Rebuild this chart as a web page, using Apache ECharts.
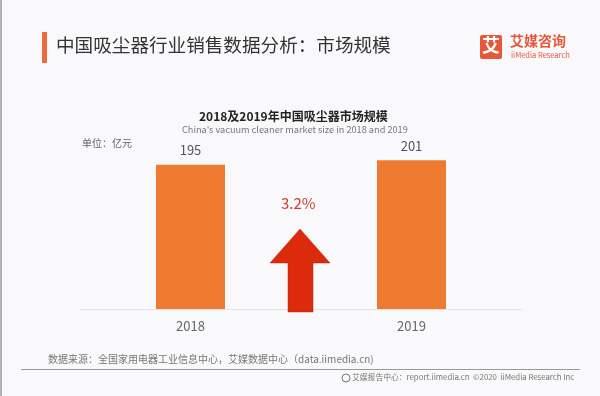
<!DOCTYPE html>
<html><head><meta charset="utf-8">
<script src="https://cdn.jsdelivr.net/npm/echarts@6/dist/echarts.min.js"></script>
<style>html,body{margin:0;padding:0;background:#f9f9fb;}#c{width:600px;height:396px;}</style>
</head><body><div id="c"></div>
<script>
var categories = ['2018', '2019'];
var marketSize = [195, 201];
var growthLabel = '3.2%';
var FONT = '"Noto Sans CJK SC","Noto Sans",sans-serif';

var chart = echarts.init(document.getElementById('c'));
chart.setOption({
  backgroundColor: '#f9f9fb',
  animation: false,
  grid: { left: 80, right: 78, top: 124, bottom: 87 },
  xAxis: {
    type: 'category', data: categories,
    axisLine: { lineStyle: { color: '#e4e4e6', width: 1 } },
    axisTick: { show: false },
    axisLabel: { color: '#666', fontSize: 13, margin: 11, fontFamily: FONT }
  },
  yAxis: { type: 'value', min: 0, max: 250, show: false, splitLine: { show: false } },
  series: [{
    type: 'bar', data: marketSize, barWidth: 69,
    itemStyle: { color: '#ef7b30' },
    label: { show: true, position: 'top', distance: 8, color: '#555', fontSize: 13, fontFamily: FONT }
  }],
  graphic: [
    { type: 'rect', left: 0, top: 0, shape: { width: 2, height: 396 }, style: { fill: '#b0b0b0' } },
    { type: 'rect', left: 42, top: 32, shape: { width: 5, height: 31 }, style: { fill: '#ee6a3a' } },
    { type: 'text', left: 56, top: 36, style: { text: '中国吸尘器行业销售数据分析：市场规模', font: '18.6px ' + FONT, fill: '#333' } },
    { type: 'rect', left: 480, top: 35, shape: { width: 22, height: 24, r: 2 }, style: { fill: '#e9573b' } },
    { type: 'text', left: 482, top: 36, style: { text: '艾', font: 'bold 18px ' + FONT, fill: '#fff' } },
    { type: 'text', left: 510, top: 34, style: { text: '艾媒咨询', font: 'bold 14px ' + FONT, fill: '#e9573b' } },
    { type: 'text', left: 511, top: 51, style: { text: 'iiMedia Research', font: '7.5px ' + FONT, fill: '#e9573b' } },
    { type: 'text', left: 199, top: 110, style: { text: '2018及2019年中国吸尘器市场规模', font: 'bold 12px ' + FONT, fill: '#222' } },
    { type: 'text', left: 182, top: 125, style: { text: "China's vacuum cleaner market size in 2018 and 2019", font: '9.2px ' + FONT, fill: '#777' } },
    { type: 'text', left: 82, top: 138, style: { text: '单位：亿元', font: '10px ' + FONT, fill: '#666' } },
    { type: 'text', left: 281, top: 196, style: { text: growthLabel, font: '15px ' + FONT, fill: '#d23a2a' } },
    { type: 'polygon', z: 100, shape: { points: [[300, 229], [330, 263], [313, 263], [313, 312], [288, 312], [288, 263], [270, 263]] },
      style: { fill: '#dc2a0c', stroke: '#c22008', lineWidth: 0.5 } },
    { type: 'text', left: 48, top: 354, style: { text: '数据来源：全国家用电器工业信息中心，艾媒数据中心（data.iimedia.cn)', font: '10px ' + FONT, fill: '#777' } },
    { type: 'rect', left: 21, top: 369, shape: { width: 559, height: 1 }, style: { fill: '#999' } },
    { type: 'circle', shape: { cx: 346, cy: 378, r: 4 }, style: { fill: 'none', stroke: '#777', lineWidth: 1 } },
    { type: 'text', left: 352, top: 373, style: { text: '艾媒报告中心：report.iimedia.cn  ©2020  iiMedia Research Inc', font: '7.8px ' + FONT, fill: '#777' } }
  ]
});
</script></body></html>
